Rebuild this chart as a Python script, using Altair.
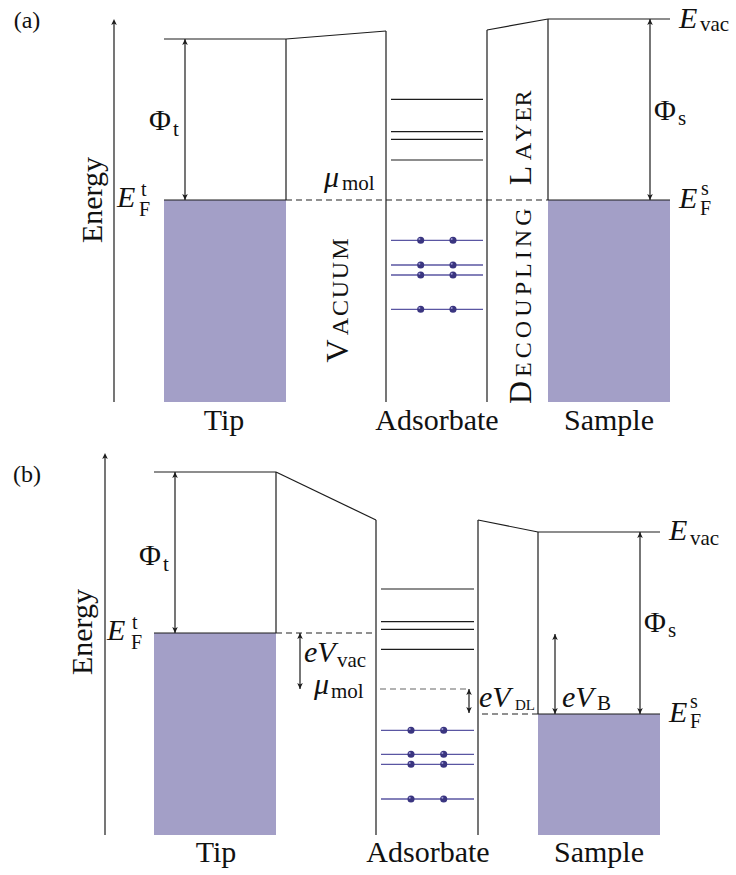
import altair as alt
import pandas as pd

W, H = 736, 875
FILL = "#a39fc7"
LINE = "#1c1c1c"
PURPLE = "#5a56a2"
DOT = "#3a3580"
FONT = "Liberation Serif"

# ---------------- panel (a) data ----------------
a_axis_x = 114
a_axis_y = [402, 19]
a_tip_x = [164, 286]
a_tip_vac, a_tip_ef = 39, 200
a_ads_wall = [386, 487]
a_ads_top = [31, 30]
a_sam_x = [548, 670]
a_sam_vac, a_sam_ef = 19, 200
a_bottom = 402
a_empty = [99.3, 131.7, 139.3, 160]
a_filled = [240.3, 265, 275, 309.3]
a_lev_x = [391, 483]
a_dot_x = [420.7, 453]
a_arrows = [(185, 39, 200), (650, 19, 200)]
a_dashed = [(286, 200, 548, 200, "#222")]

# ---------------- panel (b) data ----------------
b_axis_x = 105
b_axis_y = [835, 453]
b_tip_x = [154, 276]
b_tip_vac, b_tip_ef = 472, 633
b_ads_wall = [376, 478]
b_ads_top = [520, 520]
b_sam_x = [538, 660]
b_sam_vac, b_sam_ef = 532, 714
b_bottom = 835
b_empty = [589, 621.7, 629.3, 649.3]
b_filled = [730.3, 754.3, 764.3, 799]
b_lev_x = [381, 474]
b_dot_x = [411, 443.7]
b_arrows = [(175, 472, 633), (640, 532, 714), (300, 633, 689), (469, 689, 713), (555, 634, 714)]
b_dashed = [(276, 633, 376, 633, "#222"), (380, 689, 470, 689, "#666"), (482, 714, 538, 714, "#222")]

# ---------------- text data ----------------
roman_left = [  # text, x, baseline y, size
    ("Φ", 149, 130, 30), ("t", 173, 136, 21),
    ("Φ", 654, 120, 30), ("s", 678, 125, 21),
    ("Φ", 139, 565, 30), ("t", 163, 571, 21),
    ("Φ", 644, 632, 30), ("s", 668, 637, 21),
    ("t", 141, 196, 20), ("F", 139, 216, 20),
    ("t", 132, 629, 20), ("F", 131, 649, 20),
    ("s", 701, 195, 20), ("F", 700, 215, 20),
    ("s", 690, 708, 20), ("F", 690, 728, 20),
    ("vac", 700, 31, 21), ("vac", 690, 545, 21),
    ("mol", 342, 190, 21), ("mol", 331, 698, 21),
    ("vac", 337, 667, 21), ("DL", 515, 710, 15), ("B", 597, 710, 21),
]
italic_left = [
    ("E", 117, 207, 30), ("E", 107, 640, 30),
    ("E", 679, 208, 30), ("E", 669, 722, 30),
    ("E", 679, 28, 30), ("E", 669, 540, 30),
    ("μ", 324, 187, 30), ("μ", 314, 694, 30),
    ("eV", 304, 662, 30), ("eV", 479, 707, 30), ("eV", 562, 707, 30),
]
roman_center = [
    ("Tip", 224, 430, 30), ("Adsorbate", 437, 430, 30), ("Sample", 609, 430, 30),
    ("Tip", 216, 862, 30), ("Adsorbate", 428, 862, 30), ("Sample", 599, 862, 30),
    ("(a)", 27, 28, 24), ("(b)", 27, 482, 24),
]
rotated = [  # text, baseline x, centre y, size
    ("Energy", 102, 200, 30), ("Energy", 92, 632, 30),
    ("V", 348, 351, 32), ("A", 348, 326.5, 24), ("C", 348, 308, 24),
    ("U", 348, 289.5, 24), ("U", 348, 270.5, 24), ("M", 348, 249, 24),
    ("D", 531, 392.5, 32), ("E", 531, 369.7, 24), ("C", 531, 350.3, 24),
    ("O", 531, 329.5, 24), ("U", 531, 308.1, 24), ("P", 531, 288.7, 24),
    ("L", 531, 270.6, 24), ("I", 531, 255.2, 24), ("N", 531, 238.5, 24),
    ("G", 531, 217, 24),
    ("L", 531, 175.5, 32), ("A", 531, 151.5, 24), ("Y", 531, 132.5, 24),
    ("E", 531, 114.5, 24), ("R", 531, 98.5, 24),
]

xs = alt.Scale(domain=[0, W], nice=False, zero=False)
ys = alt.Scale(domain=[0, H], nice=False, zero=False, reverse=True)


def panel_geometry(axis_x, axis_y, tip_x, tip_vac, tip_ef, ads_wall, ads_top,
                   sam_x, sam_vac, sam_ef, bottom, empty, filled, lev_x, dot_x):
    segs = [
        (tip_x[0], tip_vac, tip_x[1], tip_vac),
        (tip_x[1], tip_vac, tip_x[1], tip_ef),
        (tip_x[0], tip_ef, tip_x[1], tip_ef),
        (tip_x[1], tip_vac, ads_wall[0], ads_top[0]),
        (ads_wall[0], ads_top[0], ads_wall[0], bottom),
        (ads_wall[1], ads_top[1], ads_wall[1], bottom),
        (ads_wall[1], ads_top[1], sam_x[0], sam_vac),
        (sam_x[0], sam_vac, sam_x[0], sam_ef),
        (sam_x[0], sam_vac, sam_x[1], sam_vac),
        (sam_x[0], sam_ef, sam_x[1], sam_ef),
        (axis_x, axis_y[0], axis_x, axis_y[1] + 2),
    ]
    for e in empty:
        segs.append((lev_x[0], e, lev_x[1], e))
    fills = [(tip_x[0], tip_ef, tip_x[1], bottom), (sam_x[0], sam_ef, sam_x[1], bottom)]
    purple = [(lev_x[0], f, lev_x[1], f) for f in filled]
    dots = [(dx, f) for f in filled for dx in dot_x]
    heads_up = [(axis_x, axis_y[1])]
    return segs, fills, purple, dots, heads_up


sa, fa, pa, da, ha = panel_geometry(a_axis_x, a_axis_y, a_tip_x, a_tip_vac, a_tip_ef, a_ads_wall,
                                    a_ads_top, a_sam_x, a_sam_vac, a_sam_ef, a_bottom, a_empty,
                                    a_filled, a_lev_x, a_dot_x)
sb, fb, pb, db, hb = panel_geometry(b_axis_x, b_axis_y, b_tip_x, b_tip_vac, b_tip_ef, b_ads_wall,
                                    b_ads_top, b_sam_x, b_sam_vac, b_sam_ef, b_bottom, b_empty,
                                    b_filled, b_lev_x, b_dot_x)

segs = pd.DataFrame(sa + sb, columns=["x", "y", "x2", "y2"])
fills = pd.DataFrame(fa + fb, columns=["x", "y", "x2", "y2"])
purple = pd.DataFrame(pa + pb, columns=["x", "y", "x2", "y2"])
dots = pd.DataFrame(da + db, columns=["x", "y"])
arrows = a_arrows + b_arrows
arrow_rules = pd.DataFrame(arrows, columns=["x", "y", "y2"])
heads_up = pd.DataFrame(ha + hb + [(x, t) for x, t, b in arrows], columns=["x", "y"])
heads_dn = pd.DataFrame([(x, b) for x, t, b in arrows], columns=["x", "y"])
dashed = pd.DataFrame(a_dashed + b_dashed, columns=["x", "y", "x2", "y2", "c"])

X = lambda f="x": alt.X(f"{f}:Q", scale=xs, axis=None)
Y = lambda f="y": alt.Y(f"{f}:Q", scale=ys, axis=None)

layers = []
layers.append(alt.Chart(fills).mark_rect(color=FILL, opacity=1).encode(
    x=X(), x2="x2:Q", y=Y(), y2="y2:Q"))
layers.append(alt.Chart(segs).mark_rule(color=LINE, strokeWidth=1.2).encode(
    x=X(), x2="x2:Q", y=Y(), y2="y2:Q"))
layers.append(alt.Chart(dashed).mark_rule(strokeWidth=1.2, strokeDash=[6, 4]).encode(
    x=X(), x2="x2:Q", y=Y(), y2="y2:Q", color=alt.Color("c:N", scale=None)))
layers.append(alt.Chart(purple).mark_rule(color=PURPLE, strokeWidth=1.3).encode(
    x=X(), x2="x2:Q", y=Y(), y2="y2:Q"))
layers.append(alt.Chart(arrow_rules).mark_rule(color=LINE, strokeWidth=1.2).encode(
    x=X(), y=Y(), y2="y2:Q"))
UP = "M0,0 L0.7,1.5 L0,1.1 L-0.7,1.5 Z"
DN = "M0,0 L0.7,-1.5 L0,-1.1 L-0.7,-1.5 Z"
layers.append(alt.Chart(heads_up).mark_point(shape=UP, filled=True, size=64, color=LINE, opacity=1).encode(
    x=X(), y=Y()))
layers.append(alt.Chart(heads_dn).mark_point(shape=DN, filled=True, size=64, color=LINE, opacity=1).encode(
    x=X(), y=Y()))
layers.append(alt.Chart(dots).mark_circle(color=DOT, size=50, opacity=1).encode(x=X(), y=Y()))
layers.append(alt.Chart(dots).mark_circle(color="#a9a5dc", size=4, opacity=0.9, xOffset=-1.3, yOffset=-1.3).encode(
    x=X(), y=Y()))


def text_layer(rows, italic=False, align="left", angle=0):
    df = pd.DataFrame(rows, columns=["t", "x", "y", "s"])
    return alt.Chart(df).mark_text(font=FONT, fontStyle="italic" if italic else "normal",
                                   align=align, baseline="alphabetic", angle=angle,
                                   color="#111111").encode(
        x=X(), y=Y(), text="t:N", size=alt.Size("s:Q", scale=None, legend=None))


layers.append(text_layer(roman_left))
layers.append(text_layer(italic_left, italic=True))
layers.append(text_layer(roman_center, align="center"))
layers.append(text_layer(rotated, align="center", angle=270))

chart = alt.layer(*layers).properties(
    width=W, height=H, padding=0, autosize=alt.AutoSizeParams(type="none"),
    background="white"
).configure_view(stroke=None)

chart.save("out.html", embed_options={"renderer": "svg", "actions": False})
